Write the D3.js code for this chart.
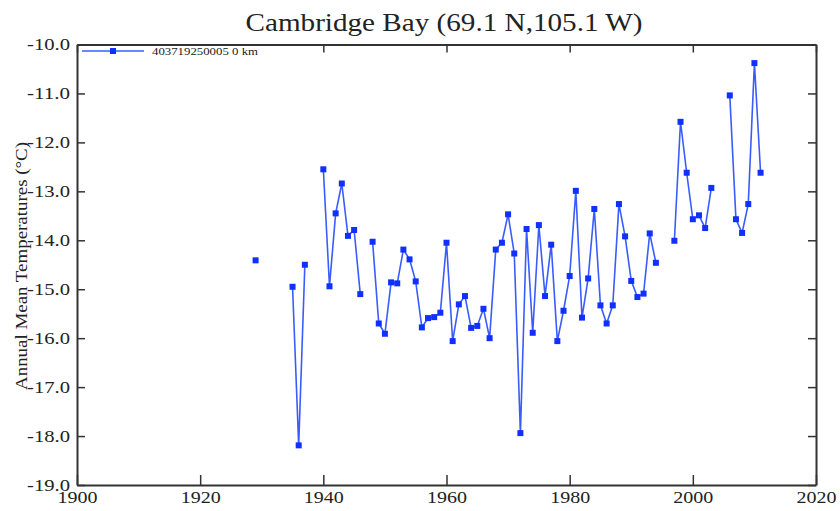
<!DOCTYPE html>
<html>
<head>
<meta charset="utf-8">
<script src="https://cdn.jsdelivr.net/npm/d3@7"></script>
<style>
  body { margin: 0; background: #fff; }
  svg { display: block; }
  svg text { font-family: "Liberation Serif", "Times New Roman", Times, "DejaVu Serif", serif; fill: #222; }
</style>
</head>
<body>
<svg></svg>
<script>
let width = 840;
let height = 511;
let margin = {top: 44.5, right: 24, bottom: 26, left: 77};
let serif = "'Liberation Serif', 'Times New Roman', Times, 'DejaVu Serif', serif";

let titleText = "Cambridge Bay (69.1 N,105.1 W)";
let yLabel = "Annual Mean Temperatures (\u00B0C)";
let seriesName = "403719250005  0 km";

// years with no record are null, so the line breaks there
let years = [1929, 1930, 1931, 1932, 1933, 1934, 1935, 1936, 1937, 1938, 1939,
  1940, 1941, 1942, 1943, 1944, 1945, 1946, 1947, 1948, 1949,
  1950, 1951, 1952, 1953, 1954, 1955, 1956, 1957, 1958, 1959,
  1960, 1961, 1962, 1963, 1964, 1965, 1966, 1967, 1968, 1969,
  1970, 1971, 1972, 1973, 1974, 1975, 1976, 1977, 1978, 1979,
  1980, 1981, 1982, 1983, 1984, 1985, 1986, 1987, 1988, 1989,
  1990, 1991, 1992, 1993, 1994, 1995, 1996, 1997, 1998, 1999,
  2000, 2001, 2002, 2003, 2004, 2005, 2006, 2007, 2008, 2009,
  2010, 2011];
let temps = [-14.41, null, null, null, null, null, -14.95, -18.19, -14.50, null, null,
  -12.55, -14.94, -13.45, -12.84, -13.91, -13.79, -15.10, null, -14.03, -15.70,
  -15.91, -14.86, -14.88, -14.19, -14.39, -14.84, -15.78, -15.59, -15.57, -15.48,
  -14.05, -16.06, -15.31, -15.14, -15.79, -15.75, -15.40, -16.00, -14.19, -14.05,
  -13.47, -14.27, -17.94, -13.77, -15.89, -13.69, -15.14, -14.09, -16.06, -15.44,
  -14.73, -12.99, -15.58, -14.78, -13.36, -15.33, -15.70, -15.33, -13.26, -13.92,
  -14.83, -15.16, -15.09, -13.86, -14.46, null, null, -14.01, -11.58, -12.62,
  -13.57, -13.49, -13.75, -12.93, null, null, -11.04, -13.57, -13.85, -13.26,
  -10.38, -12.62];

let xTicks = [1900, 1920, 1940, 1960, 1980, 2000, 2020];
let yTicks = [-10, -11, -12, -13, -14, -15, -16, -17, -18, -19];

let svg = d3.select("svg").attr("width", width).attr("height", height);

let xScale = d3.scaleLinear().domain([1900, 2020]).range([margin.left, width - margin.right]);
let yScale = d3.scaleLinear().domain([-19, -10]).range([height - margin.bottom, margin.top]);

let points = years.map((y, i) => ({year: y, t: temps[i]}));

// axes: ticks point inward on all four sides
let styleAxis = (g) => {
  g.attr("font-family", serif);
  g.select(".domain").attr("stroke", "#333").attr("stroke-width", 2);
  g.selectAll(".tick line").attr("stroke", "#333").attr("stroke-width", 1.5);
};

let xAxis = d3.axisBottom(xScale).tickValues(xTicks).tickFormat(d3.format("d"))
  .tickSizeInner(-10).tickSizeOuter(0).tickPadding(6);
svg.append("g")
  .attr("transform", "translate(0," + (height - margin.bottom) + ")")
  .call(xAxis)
  .call(styleAxis)
  .call(g => g.selectAll("text")
    .attr("font-size", 17).attr("fill", "#222")
    .attr("textLength", 40).attr("lengthAdjust", "spacingAndGlyphs"));

svg.append("g")
  .attr("transform", "translate(0," + margin.top + ")")
  .call(d3.axisTop(xScale).tickValues(xTicks).tickFormat("").tickSizeInner(-8).tickSizeOuter(0))
  .call(styleAxis);

let yAxis = d3.axisLeft(yScale).tickValues(yTicks).tickFormat(d3.format(".1f"))
  .tickSizeInner(-8).tickSizeOuter(0).tickPadding(7);
svg.append("g")
  .attr("transform", "translate(" + margin.left + ",0)")
  .call(yAxis)
  .call(styleAxis)
  .call(g => g.selectAll("text")
    .text(d => d3.format(".1f")(d).replace("\u2212", "-"))
    .attr("font-size", 17).attr("fill", "#222")
    .attr("textLength", 43).attr("lengthAdjust", "spacingAndGlyphs"));

svg.append("g")
  .attr("transform", "translate(" + (width - margin.right) + ",0)")
  .call(d3.axisRight(yScale).tickValues(yTicks).tickFormat("").tickSizeInner(-8).tickSizeOuter(0))
  .call(styleAxis);

// series
let line = d3.line()
  .defined(d => d.t !== null)
  .x(d => xScale(d.year))
  .y(d => yScale(d.t));

svg.append("path")
  .datum(points)
  .attr("fill", "none")
  .attr("stroke", "#3a5cff")
  .attr("stroke-width", 1.6)
  .attr("d", line);

svg.append("g")
  .selectAll("rect")
  .data(points.filter(d => d.t !== null))
  .join("rect")
  .attr("x", d => xScale(d.year) - 3)
  .attr("y", d => yScale(d.t) - 3)
  .attr("width", 6)
  .attr("height", 6)
  .attr("fill", "#1030ff");

// legend, on a white box that hides the top tick behind it
let legend = svg.append("g");
legend.append("rect")
  .attr("x", 79).attr("y", 46).attr("width", 186).attr("height", 12).attr("fill", "#fff");
legend.append("line")
  .attr("x1", 82).attr("x2", 144).attr("y1", 51).attr("y2", 51)
  .attr("stroke", "#3a5cff").attr("stroke-width", 1.6);
legend.append("rect")
  .attr("x", 110).attr("y", 48).attr("width", 6).attr("height", 6).attr("fill", "#1030ff");
legend.append("text")
  .attr("x", 152).attr("y", 54.5)
  .attr("font-family", serif)
  .attr("font-size", 10)
  .attr("textLength", 106).attr("lengthAdjust", "spacingAndGlyphs")
  .text(seriesName);

// title and axis label
svg.append("text")
  .attr("x", 444).attr("y", 31)
  .attr("text-anchor", "middle")
  .attr("font-family", serif)
  .attr("font-size", 26)
  .attr("textLength", 397).attr("lengthAdjust", "spacingAndGlyphs")
  .text(titleText);

svg.append("text")
  .attr("transform", "translate(27," + 266 + ") rotate(-90)")
  .attr("text-anchor", "middle")
  .attr("font-family", serif)
  .attr("font-size", 17)
  .attr("textLength", 248).attr("lengthAdjust", "spacingAndGlyphs")
  .text(yLabel);
</script>
</body>
</html>
